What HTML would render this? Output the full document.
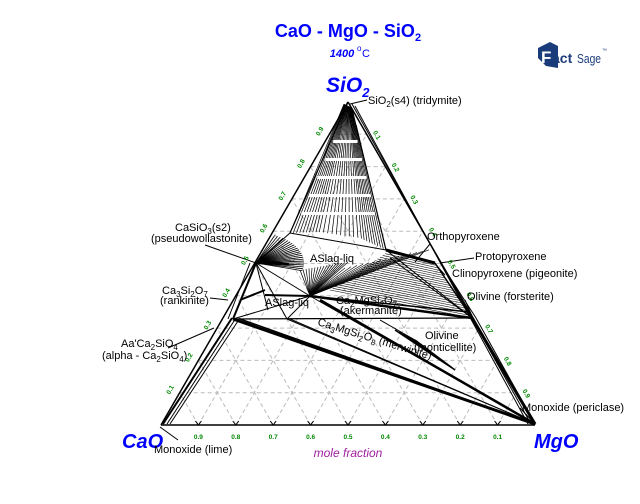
<!DOCTYPE html>
<html><head><meta charset="utf-8"><style>
html,body{margin:0;padding:0;background:#fff;}
svg{display:block;font-family:"Liberation Sans",Arial,sans-serif;}
.l{font-size:11px;fill:#000;}
.g{font-size:6.5px;fill:#080;font-weight:bold;}
</style></head><body>
<svg id="s" width="640" height="504" viewBox="0 0 640 504" xmlns="http://www.w3.org/2000/svg">
<rect width="640" height="504" fill="#fff"/>
<text x="348" y="37" text-anchor="middle" font-size="18" font-weight="bold" fill="#00f">CaO - MgO - SiO<tspan font-size="11" dy="4">2</tspan></text>
<text x="342" y="57" text-anchor="middle" font-size="11" font-style="italic" font-weight="bold" fill="#00f">1400</text>
<text x="357" y="51" font-size="8" fill="#00f">o</text><text x="362" y="57" font-size="11" fill="#00f">C</text>
<text x="326" y="92" font-size="21" font-style="italic" font-weight="bold" fill="#00f">SiO<tspan font-size="13" dy="5">2</tspan></text>
<text x="122" y="448" font-size="20" font-style="italic" font-weight="bold" fill="#00f">CaO</text>
<text x="534" y="448" font-size="20" font-style="italic" font-weight="bold" fill="#00f">MgO</text>
<text x="348" y="457" text-anchor="middle" font-size="12" font-style="italic" fill="#a020a0">mole fraction</text>
<g transform="translate(538,42)">
<polygon points="0,6 12,0 20,4 20,26 8,24 0,16" fill="#1a3c7a"/>
<text x="3" y="21" font-size="17" font-weight="bold" fill="#fff">F</text>
<text x="14" y="21" font-size="14" font-weight="bold" fill="#1a3c7a">act</text>
<text x="39" y="21" font-size="13" fill="#1a3c7a" textLength="24" lengthAdjust="spacingAndGlyphs">Sage</text>
<text x="64" y="10" font-size="5" fill="#1a3c7a">™</text>
</g>
<g id="grid" stroke="#bbb" stroke-width="1" stroke-dasharray="4,3" fill="none"></g>
<g id="fan" stroke="#000" fill="none"></g>
<g id="lines" stroke="#000" fill="none" stroke-width="1"></g>
<g id="tk"></g>
<text class="l" x="368" y="104">SiO<tspan font-size="8" dy="3">2</tspan><tspan dy="-3">(s4) (tridymite)</tspan></text>
<text class="l" x="175" y="231">CaSiO<tspan font-size="8" dy="3">3</tspan><tspan dy="-3">(s2)</tspan></text>
<text class="l" x="151" y="242">(pseudowollastonite)</text>
<text class="l" x="310" y="262">ASlag-liq</text>
<text class="l" x="162" y="294">Ca<tspan font-size="8" dy="3">3</tspan><tspan dy="-3">Si</tspan><tspan font-size="8" dy="3">2</tspan><tspan dy="-3">O</tspan><tspan font-size="8" dy="3">7</tspan></text>
<text class="l" x="160" y="304">(rankinite)</text>
<text class="l" x="265" y="306">ASlag-liq</text>
<text class="l" x="336" y="304">Ca<tspan font-size="8" dy="3">2</tspan><tspan dy="-3">MgSi</tspan><tspan font-size="8" dy="3">2</tspan><tspan dy="-3">O</tspan><tspan font-size="8" dy="3">7</tspan></text>
<text class="l" x="340" y="314">(akermanite)</text>
<text class="l" x="121" y="347">Aa'Ca<tspan font-size="8" dy="3">2</tspan><tspan dy="-3">SiO</tspan><tspan font-size="8" dy="3">4</tspan></text>
<text class="l" x="102" y="359">(alpha - Ca<tspan font-size="8" dy="3">2</tspan><tspan dy="-3">SiO</tspan><tspan font-size="8" dy="3">4</tspan><tspan dy="-3">)</tspan></text>
<text class="l" x="317" y="325" transform="rotate(17 317 325)">Ca<tspan font-size="8" dy="3">3</tspan><tspan dy="-3">MgSi</tspan><tspan font-size="8" dy="3">2</tspan><tspan dy="-3">O</tspan><tspan font-size="8" dy="3">8</tspan><tspan dy="-3"> (merwinite)</tspan></text>
<text class="l" x="425" y="339">Olivine</text>
<text class="l" x="414" y="351">(monticellite)</text>
<text class="l" x="427" y="240">Orthopyroxene</text>
<text class="l" x="475" y="260">Protopyroxene</text>
<text class="l" x="452" y="277">Clinopyroxene (pigeonite)</text>
<text class="l" x="467" y="300">Olivine (forsterite)</text>
<text class="l" x="522" y="411">Monoxide (periclase)</text>
<text class="l" x="154" y="453">Monoxide (lime)</text>
</svg>
<script>
var NS="http://www.w3.org/2000/svg";
function P(a,b,c){return [161*a+535*b+348*c,425-323*c];}
function ln(g,x1,y1,x2,y2,w,col){var e=document.createElementNS(NS,"line");e.setAttribute("x1",x1);e.setAttribute("y1",y1);e.setAttribute("x2",x2);e.setAttribute("y2",y2);if(w)e.setAttribute("stroke-width",w);if(col)e.setAttribute("stroke",col);document.getElementById(g).appendChild(e);return e;}
for(var k=1;k<10;k++){var t=k/10;
 var p=P(1-t,0,t),q=P(0,1-t,t);ln("grid",p[0],p[1],q[0],q[1]);
 p=P(1-t,t,0);q=P(0,t,1-t);ln("grid",p[0],p[1],q[0],q[1]);
 p=P(t,1-t,0);q=P(t,0,1-t);ln("grid",p[0],p[1],q[0],q[1]);
}
function lerp(a,b,t){return [a[0]+(b[0]-a[0])*t,a[1]+(b[1]-a[1])*t];}
var c1=[290,233],c2=[320,232],c3=[360,238],c4=[386,250];
for(var i=0;i<=28;i++){var t=i/28,pt=t<0.33?lerp(c1,c2,t/0.33):(t<0.66?lerp(c2,c3,(t-0.33)/0.33):lerp(c3,c4,(t-0.66)/0.34));
 var src=lerp([344,104],[352,108],t);ln("fan",src[0],src[1],pt[0],pt[1],0.7);}
var gf=document.getElementById("fan");
for(var y=140;y<226;y+=18){
 var xl=348+(290-348)*(y-102)/(233-102)+2, xr=356+(386-356)*(y-125)/(250-125)-2;
 var e=document.createElementNS(NS,"rect");e.setAttribute("x",xl);e.setAttribute("y",y);e.setAttribute("width",Math.max(0,xr-xl));e.setAttribute("height",3);e.setAttribute("fill","#fff");e.setAttribute("stroke","none");gf.appendChild(e);}
var A=[348,102],C=[161,425],M=[535,425];
ln("lines",A[0],A[1],C[0],C[1],1.5);ln("lines",A[0],A[1],M[0],M[1],1.5);ln("lines",C[0],C[1],M[0],M[1],1.5);
ln("lines",352,104,531,424,1);ln("lines",355,106,528,424,1);
ln("lines",163,424,232,318,2);ln("lines",167,424,236,318,1);ln("lines",170,424,240,318,1);
ln("lines",348,102,290,233,1.2);ln("lines",356,125,386,250,1.2);
ln("lines",290,233,386,250,1);
var W=[256,263];
for(var i=0;i<=22;i++){var an=-0.9+i*1.1/22;var x=W[0]+48*Math.cos(an*1.3),y=W[1]+30*Math.sin(an*1.3);ln("lines",W[0],W[1],x,y,0.8);}
for(var i=0;i<8;i++)ln("lines",W[0],W[1],275+i*2,262+i*0.3,2);
ln("lines",256,263,290,233,1);ln("lines",256,263,310,296,1);ln("lines",256,263,287,319,1);
ln("lines",256,263,233,319,2);ln("lines",250,263,228,319,1);
ln("lines",256,263,268,310,1);ln("lines",240,300,265,290,2);
var K=[310,296];
for(var i=0;i<=16;i++){ln("lines",K[0],K[1],300+i*3,270-i*0.5,0.7);}
for(var i=0;i<=14;i++){ln("lines",K[0],K[1],345+i*6,268-i*1.3,0.6);}
ln("lines",233,319,310,296,1);ln("lines",265,295,310,296,2);
ln("lines",287,319,310,296,1);
ln("lines",310,296,472,318,2.5);ln("lines",310,296,470,312,1.5);
for(var i=0;i<=22;i++){var s=lerp([330,290],[388,252],i/22);var d=lerp([472,318],[435,263],i/22);ln("lines",s[0],s[1],d[0],d[1],0.6);}
ln("lines",386,250,435,263,3);ln("lines",386,250,472,318,1);ln("lines",390,258,472,318,1);
ln("lines",435,263,472,318,1.5);ln("lines",440,262,476,318,1);
ln("lines",233,319,472,318,1.3);
ln("lines",233,319,535,424,3);ln("lines",240,319,535,424,1.5);
ln("lines",287,319,535,424,1);ln("lines",290,319,535,424,1);
ln("lines",310,296,535,424,1);ln("lines",320,300,535,424,2.5);ln("lines",330,305,535,424,1);
ln("lines",472,318,535,424,3);ln("lines",476,318,535,424,1);
for(var i=0;i<6;i++)ln("lines",395+i*4,330+i*2,440+i*3,360+i*2,1.5);
ln("lines",350,104,367,100,1);ln("lines",205,245,256,263,1);ln("lines",210,298,228,300,1);
ln("lines",168,348,214,328,1);ln("lines",160,427,178,440,1);ln("lines",430,244,415,262,1);
ln("lines",474,258,440,263,1);ln("lines",465,300,472,316,1);ln("lines",415,340,380,320,1);
ln("lines",520,408,535,424,1);ln("lines",445,275,436,265,1);
for(var k=1;k<10;k++){var x=161+374*k/10;ln("lines",x,425,x-3,421,1);ln("lines",x,425,x+3,421,1);
 var e=document.createElementNS(NS,"text");e.setAttribute("x",535-374*k/10);e.setAttribute("y",439);e.setAttribute("class","g");e.setAttribute("text-anchor","middle");e.textContent="0."+k;document.getElementById("tk").appendChild(e);
 var p=P(1-k/10,0,k/10);e=document.createElementNS(NS,"text");e.setAttribute("class","g");e.setAttribute("transform","translate("+(p[0]-10)+","+(p[1]+2)+") rotate(-60)");e.textContent="0."+k;document.getElementById("tk").appendChild(e);
 p=P(0,1-k/10,k/10);e=document.createElementNS(NS,"text");e.setAttribute("class","g");e.setAttribute("transform","translate("+(p[0]+6)+","+(p[1]-2)+") rotate(60)");e.textContent="0."+(10-k);document.getElementById("tk").appendChild(e);}
</script>
</body></html>
